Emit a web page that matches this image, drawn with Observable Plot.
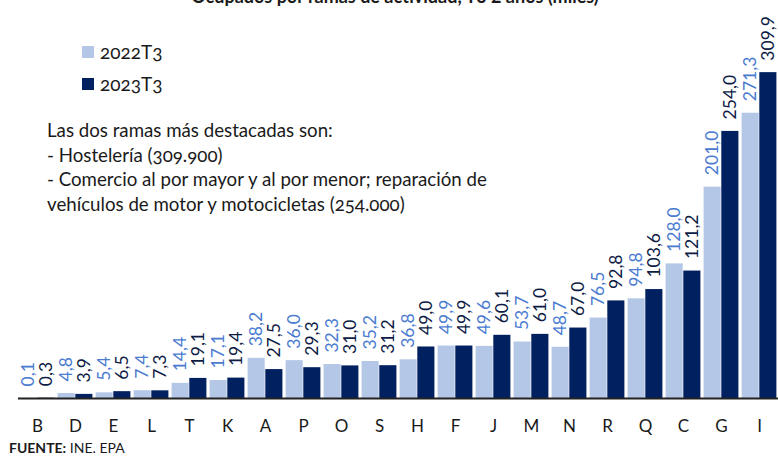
<!DOCTYPE html>
<html><head><meta charset="utf-8">
<script src="https://cdn.jsdelivr.net/npm/d3@7"></script>
<script src="https://cdn.jsdelivr.net/npm/@observablehq/plot@0.6"></script>
<style>
body{margin:0;background:#fff;font-family:Lato,"Open Sans",sans-serif;color:#1a1a1a;}
#wrap{position:relative;width:778px;height:457px;overflow:hidden;}
#chart{position:absolute;left:0;top:0;}
#title{position:absolute;left:0;width:778px;top:-14px;text-align:center;font-weight:bold;font-size:18px;line-height:20px;padding-left:12px;box-sizing:border-box;}
.leg{position:absolute;left:82px;font-size:19px;line-height:22px;display:flex;align-items:center;font-variant-numeric:oldstyle-nums;}
.leg span.sw{display:inline-block;width:12px;height:12px;margin-right:6px;}
#note{position:absolute;left:47px;top:118px;font-size:18.7px;line-height:24.5px;font-variant-numeric:oldstyle-nums;}
#src{position:absolute;left:9px;top:440px;font-size:14px;line-height:16px;}
</style></head><body>
<div id="wrap">
  <div id="chart"></div>
  <div id="title">Ocupados por ramas de actividad, T3 2 años (miles)</div>
  <div class="leg" style="top:41px"><span class="sw" style="background:#b4c7e7"></span><span>2022T3</span></div>
  <div class="leg" style="top:73px"><span class="sw" style="background:#002060"></span><span>2023T3</span></div>
  <div id="note">Las dos ramas más destacadas son:<br>- Hostelería (309.900)<br>- Comercio al por mayor y al por menor; reparación de<br>vehículos de motor y motocicletas (254.000)</div>
  <div id="src"><b>FUENTE:</b> INE. EPA</div>
</div>
<script>
const categories = ["B","D","E","L","T","K","A","P","O","S","H","F","J","M","N","R","Q","C","G","I"];
const v2022 = [0.1,4.8,5.4,7.4,14.4,17.1,38.2,36.0,32.3,35.2,36.8,49.9,49.6,53.7,48.7,76.5,94.8,128.0,201.0,271.3];
const v2023 = [0.3,3.9,6.5,7.3,19.1,19.4,27.5,29.3,31.0,31.2,49.0,49.9,60.1,61.0,67.0,92.8,103.6,121.2,254.0,309.9];
const seriesNames = ["2022T3","2023T3"];
const barColors = ["#b4c7e7","#002060"];
const labelColors = ["#4a7bd0","#0d1b45"];

const rows2022 = categories.map((c,i)=>({cat:c, value:v2022[i]}));
const rows2023 = categories.map((c,i)=>({cat:c, value:v2023[i]}));
const fmt = v => v.toFixed(1).replace(".", ",");

const chart = Plot.plot({
  width:778, height:457,
  marginLeft:18, marginRight:0, marginTop:51, marginBottom:59,
  style:{fontFamily:"Lato, 'Open Sans', sans-serif", fontSize:"17px", color:"#1a1a1a", background:"transparent"},
  x:{domain:categories, padding:0, tickSize:0, tickPadding:21, label:null},
  y:{domain:[0,330], axis:null},
  marks:[
    Plot.barY(rows2022,{x:"cat", y:"value", fill:barColors[0], insetLeft:1.6, insetRight:19.3}),
    Plot.barY(rows2023,{x:"cat", y:"value", fill:barColors[1], insetLeft:19.3, insetRight:1.6}),
    Plot.text(rows2022,{x:"cat", y:"value", text:d=>fmt(d.value), rotate:-90, textAnchor:"start", dx:-9, dy:-12, fill:labelColors[0], fontSize:17.5}),
    Plot.text(rows2023,{x:"cat", y:"value", text:d=>fmt(d.value), rotate:-90, textAnchor:"start", dx:9, dy:-12, fill:labelColors[1], fontSize:17.5}),
    Plot.ruleY([0],{stroke:"#222", strokeWidth:2})
  ]
});
document.getElementById("chart").appendChild(chart);
</script>
</body></html>
